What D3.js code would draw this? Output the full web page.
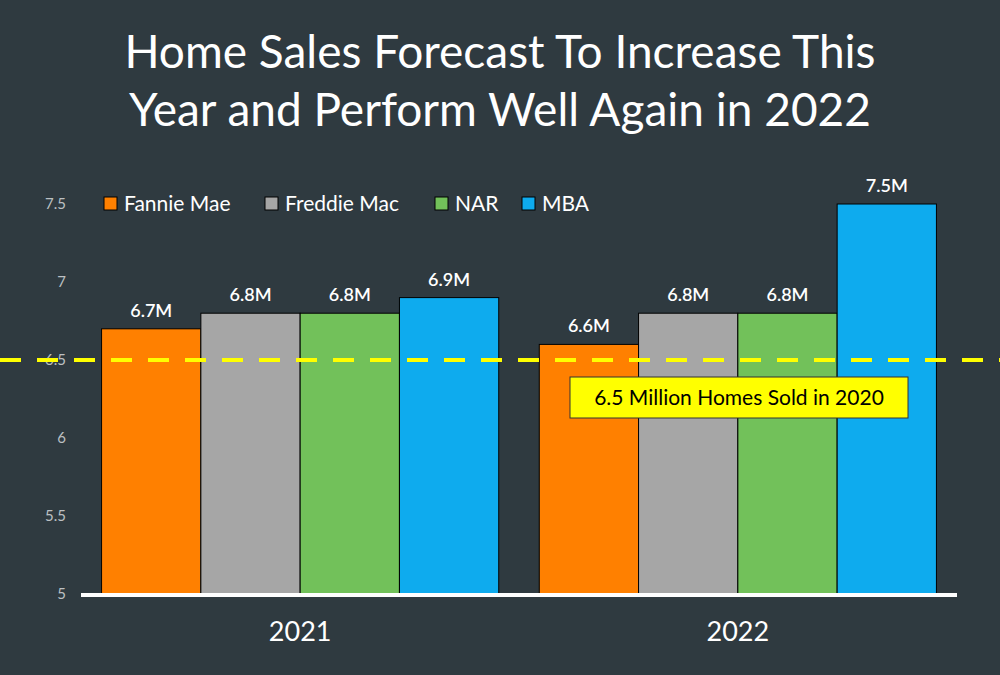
<!DOCTYPE html>
<html>
<head>
<meta charset="utf-8">
<script src="https://cdn.jsdelivr.net/npm/d3@7"></script>
<style>
  html, body { margin: 0; padding: 0; background: #2f3a40; }
  svg { display: block; }
</style>
</head>
<body>
<svg id="chart" width="1000" height="675"></svg>
<script>
const titleLines = ["Home Sales Forecast To Increase This", "Year and Perform Well Again in 2022"];
const categories = ["2021", "2022"];
const seriesNames = ["Fannie Mae", "Freddie Mac", "NAR", "MBA"];
const seriesColors = ["#ff8000", "#a6a6a6", "#72c15a", "#0eabee"];
const fannieMae = [6.7, 6.6];
const freddieMac = [6.8, 6.8];
const nar = [6.8, 6.8];
const mba = [6.9, 7.5];
const valueLabels = [["6.7M", "6.6M"], ["6.8M", "6.8M"], ["6.8M", "6.8M"], ["6.9M", "7.5M"]];
const yTicks = [5, 5.5, 6, 6.5, 7, 7.5];
const refValue = 6.5;
const refLabel = "6.5 Million Homes Sold in 2020";

const series = [fannieMae, freddieMac, nar, mba];
const font = "Lato, 'Open Sans', sans-serif";

const svg = d3.select("#chart");
svg.append("rect").attr("width", 1000).attr("height", 675).attr("fill", "#2f3a40");

const y = d3.scaleLinear().domain([5, 7.5]).range([594, 204]);
const x0 = d3.scaleBand().domain(categories).range([81, 957]).paddingInner(0.0926).paddingOuter(0.047);
const x1 = d3.scaleBand().domain(seriesNames).range([0, x0.bandwidth()]).padding(0);

// Title
svg.append("g").selectAll("text").data(titleLines).join("text")
  .attr("x", 500).attr("y", (d, i) => 68 + i * 58)
  .attr("text-anchor", "middle").attr("fill", "#ffffff")
  .attr("font-family", font).attr("font-size", 46)
  .text(d => d);

// Y axis tick labels
const yAxis = d3.axisLeft(y).tickValues(yTicks).tickSize(0).tickPadding(0).tickFormat(d3.format("~g"));
const yg = svg.append("g").attr("transform", "translate(66,0)").call(yAxis);
yg.select(".domain").remove();
yg.selectAll("text").attr("fill", "#bcc0c3").attr("font-family", font).attr("font-size", 15);

// Bars
const groups = svg.append("g").selectAll("g").data(categories).join("g")
  .attr("transform", d => `translate(${x0(d)},0)`);

const rows = (c, ci) => seriesNames.map((s, si) => ({ s, si, v: series[si][ci], label: valueLabels[si][ci] }));

groups.selectAll("rect").data(rows)
  .join("rect")
  .attr("x", d => x1(d.s)).attr("width", x1.bandwidth())
  .attr("y", d => y(d.v)).attr("height", d => y(5) - y(d.v))
  .attr("fill", d => seriesColors[d.si]).attr("stroke", "#000").attr("stroke-width", 1);

groups.selectAll("text.val").data(rows)
  .join("text").attr("class", "val")
  .attr("x", d => x1(d.s) + x1.bandwidth() / 2).attr("y", d => y(d.v) - 12)
  .attr("text-anchor", "middle").attr("fill", "#ffffff")
  .attr("font-family", font).attr("font-size", 18).attr("font-weight", 600)
  .text(d => d.label);

// X axis line
svg.append("line").attr("x1", 81).attr("x2", 957).attr("y1", y(5) + 1).attr("y2", y(5) + 1)
  .attr("stroke", "#ffffff").attr("stroke-width", 4);

// Category labels
const xAxis = d3.axisBottom(x0).tickSize(0).tickPadding(0);
const xg = svg.append("g").attr("transform", `translate(0,${y(5) + 28})`).call(xAxis);
xg.select(".domain").remove();
xg.selectAll("text").attr("fill", "#ffffff").attr("font-family", font).attr("font-size", 27);

// Reference dashed line
svg.append("line").attr("x1", 0).attr("x2", 1000).attr("y1", y(refValue)).attr("y2", y(refValue))
  .attr("stroke", "#ffff00").attr("stroke-width", 4).attr("stroke-dasharray", "21,16");

// Annotation box
svg.append("rect").attr("x", 570).attr("y", 377).attr("width", 338).attr("height", 41)
  .attr("fill", "#ffff00").attr("stroke", "#333").attr("stroke-width", 1);
svg.append("text").attr("x", 739).attr("y", 405).attr("text-anchor", "middle")
  .attr("fill", "#000").attr("font-family", font).attr("font-size", 21).text(refLabel);

// Legend
const legendX = [104, 265, 435, 522];
const lg = svg.append("g").selectAll("g").data(seriesNames).join("g")
  .attr("transform", (d, i) => `translate(${legendX[i]},197)`);
lg.append("rect").attr("width", 13).attr("height", 13)
  .attr("fill", (d, i) => seriesColors[i]).attr("stroke", "#000").attr("stroke-width", 1);
lg.append("text").attr("x", 20).attr("y", 14).attr("fill", "#ffffff")
  .attr("font-family", font).attr("font-size", 21).text(d => d);
</script>
</body>
</html>
